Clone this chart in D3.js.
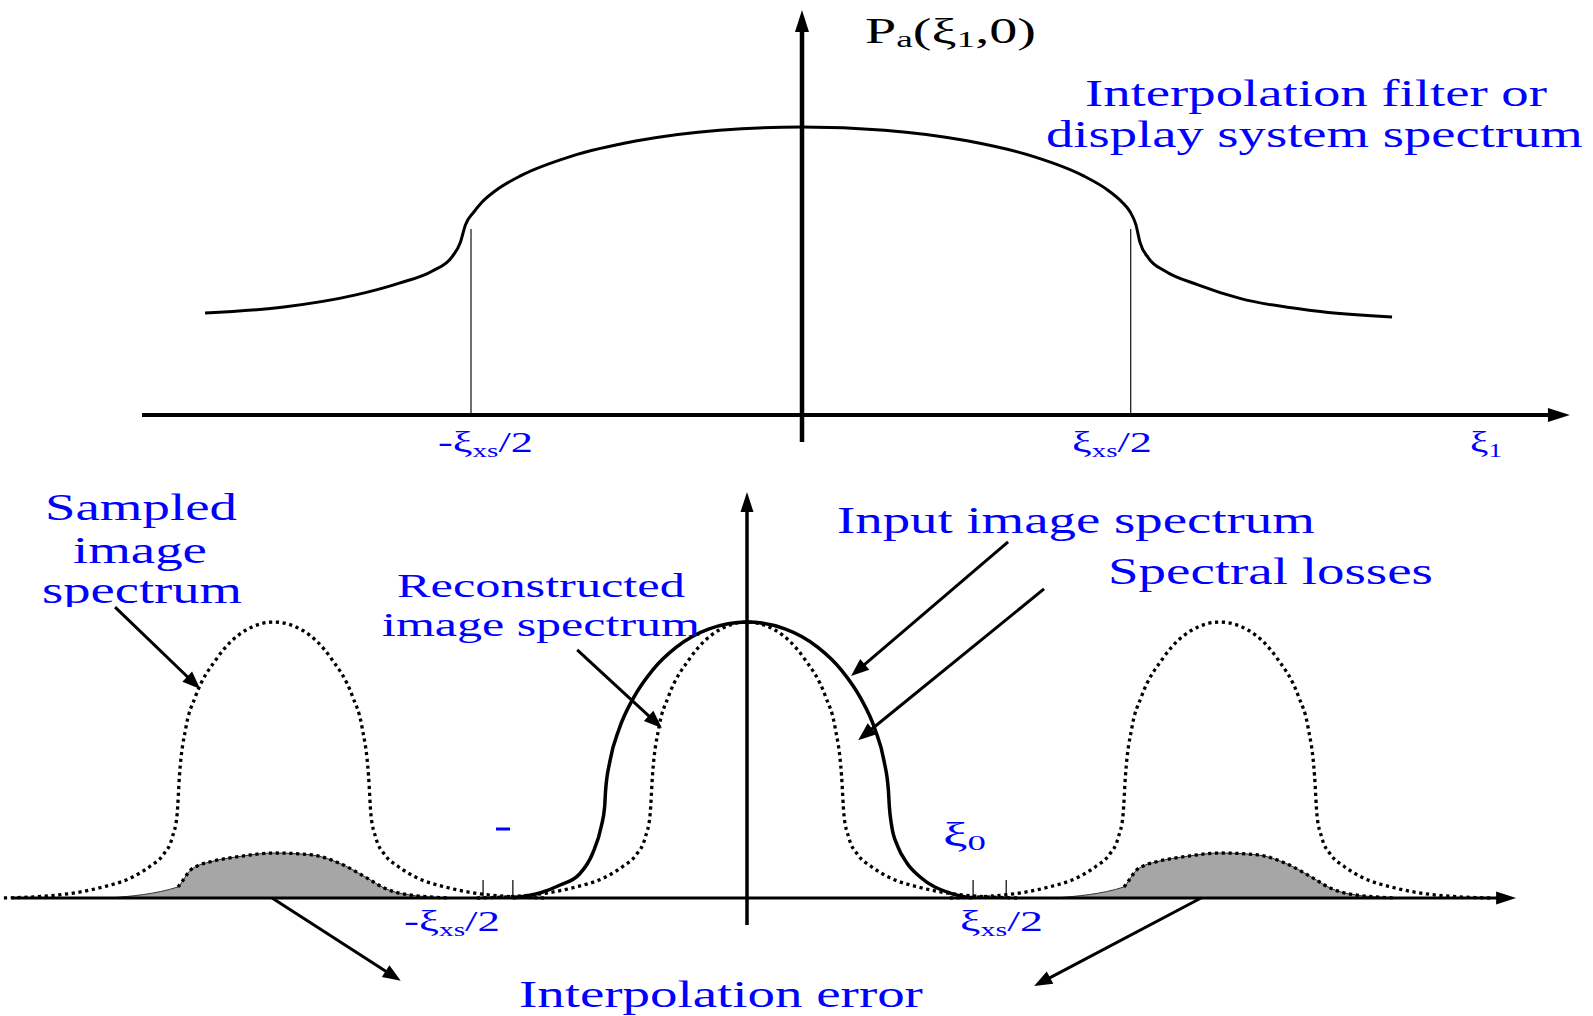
<!DOCTYPE html>
<html>
<head>
<meta charset="utf-8">
<script src="https://cdn.jsdelivr.net/npm/d3@7"></script>
<style>
  html, body { margin: 0; padding: 0; background: #fff; }
  svg { display: block; }
  text { font-family: "Liberation Serif", "Times New Roman", Times, serif; }
</style>
</head>
<body>
<svg id="fig" width="1593" height="1016"></svg>
<script>
// ---------------- data ----------------
// Upper panel: interpolation filter / display spectrum P_a(xi1, 0).
// x in units of xi_xs/2, y relative to the DC gain.
const filterSpectrum = [
  [-1.809, 0.354], [-1.570, 0.375], [-1.352, 0.417], [-1.220, 0.458], [-1.120, 0.500],
  [-1.060, 0.550], [-1.035, 0.600], [-1.020, 0.660], [-0.995, 0.704], [-0.970, 0.739],
  [-0.930, 0.778], [-0.850, 0.832], [-0.700, 0.898], [-0.500, 0.952], [-0.250, 0.989], [0, 1],
  [0.250, 0.989], [0.500, 0.952], [0.700, 0.898], [0.850, 0.832], [0.930, 0.778],
  [0.970, 0.739], [0.995, 0.704], [1.012, 0.660], [1.024, 0.600], [1.050, 0.545],
  [1.100, 0.500], [1.200, 0.452], [1.327, 0.405], [1.550, 0.362], [1.788, 0.340]
];
// positions of the +/- xi_xs/2 markers and their height
const filterEdges = [-1.003, 0.996];
const filterEdgeHeight = 0.646;

// Lower panel: x in units of the sampling frequency xi_xs, y relative to peak.
const inputSpectrum = [
  [-0.495, 0], [-0.438, 0.018], [-0.395, 0.047], [-0.355, 0.085], [-0.326, 0.163],
  [-0.308, 0.260], [-0.301, 0.330], [-0.299, 0.388], [-0.290, 0.494], [-0.270, 0.614],
  [-0.240, 0.725], [-0.200, 0.825], [-0.150, 0.908], [-0.080, 0.975], [0, 1],
  [0.080, 0.975], [0.150, 0.908], [0.200, 0.825], [0.240, 0.725], [0.270, 0.614],
  [0.290, 0.494], [0.299, 0.388], [0.301, 0.330], [0.306, 0.260], [0.318, 0.190],
  [0.338, 0.127], [0.366, 0.076], [0.429, 0.018], [0.476, 0]
];
const reconstructedSpectrum = [
  [-0.571, 0], [-0.450, 0.012], [-0.366, 0.038], [-0.300, 0.075], [-0.262, 0.115],
  [-0.235, 0.155], [-0.215, 0.220], [-0.205, 0.300], [-0.200, 0.440], [-0.186, 0.620],
  [-0.166, 0.730], [-0.120, 0.870], [-0.060, 0.970], [0, 1],
  [0.060, 0.970], [0.120, 0.870], [0.166, 0.730], [0.186, 0.620], [0.200, 0.440],
  [0.205, 0.300], [0.215, 0.220], [0.235, 0.155], [0.262, 0.115], [0.300, 0.075],
  [0.366, 0.038], [0.450, 0.012], [0.571, 0]
];
// spectral replicas of the sampled image sit at multiples of xi_xs
const replicaCenters = [-1, 1];
// interpolation error passed by the filter, around each replica
const interpolationError = [
  [-0.349, 0], [-0.203, 0.040], [-0.192, 0.065], [-0.180, 0.095], [-0.160, 0.118],
  [-0.137, 0.130], [-0.066, 0.152], [0, 0.163], [0.080, 0.156], [0.137, 0.127],
  [0.197, 0.072], [0.233, 0.036], [0.275, 0.014], [0.372, 0]
];
// small tick marks at -xs/2, -xi0, xi0, xs/2 on the lower axis
const lowerTicks = [-0.558, -0.495, 0.478, 0.548];

// text
const yAxisTitle = ["P", "a", "(\u03BE", "1", ",0)"];
const halfRateNeg = ["-\u03BE", "xs", "/2"];
const halfRatePos = ["\u03BE", "xs", "/2"];
const freqAxisTitle = ["\u03BE", "1"];
const cutoffLabel = ["\u03BE", "0"];
const filterNote = ["Interpolation filter or", "display system spectrum"];
const sampledNote = ["Sampled", "image", "spectrum"];
const reconNote = ["Reconstructed", "image spectrum"];
const inputNote = "Input image spectrum";
const lossNote = "Spectral losses";
const errorNote = "Interpolation error";

// ---------------- drawing ----------------
const svg = d3.select("#fig");
const BLUE = "#0000ff";

const xT = d3.scaleLinear().domain([0, 1]).range([802, 1132]);
const yT = d3.scaleLinear().domain([0, 1]).range([415, 127]);
const xB = d3.scaleLinear().domain([0, 1]).range([747, 1220]);
const yB = d3.scaleLinear().domain([0, 1]).range([898, 622]);

function arrow(g, x1, y1, x2, y2, opt = {}) {
  const len = opt.len || 18, hw = opt.hw || 7, w = opt.width || 3;
  const dx = x2 - x1, dy = y2 - y1, L = Math.hypot(dx, dy);
  const ux = dx / L, uy = dy / L;
  const bx = x2 - ux * len, by = y2 - uy * len;
  g.append("line")
    .attr("x1", x1).attr("y1", y1)
    .attr("x2", bx + ux * 2).attr("y2", by + uy * 2)
    .attr("stroke", "#000").attr("stroke-width", w);
  g.append("path")
    .attr("d", `M${x2},${y2}L${bx - uy * hw},${by + ux * hw}L${bx + uy * hw},${by - ux * hw}Z`)
    .attr("fill", "#000");
}

// text stretched horizontally to span x0..x1 on the given baseline
function label(parts, x0, x1, baseline, color, opts = {}) {
  const outer = svg.append("g");
  if (opts.clipBottom !== undefined) {
    const id = "clip" + Math.round(x0) + "_" + Math.round(baseline);
    svg.append("clipPath").attr("id", id).append("rect")
      .attr("x", 0).attr("y", 0).attr("width", 1593).attr("height", opts.clipBottom);
    outer.attr("clip-path", `url(#${id})`);
  }
  const g = outer.append("g");
  const t = g.append("text").attr("fill", color).attr("x", 0).attr("y", 0)
    .attr("font-weight", opts.weight || "normal");
  parts.forEach(p => {
    t.append("tspan").attr("font-size", p.size).attr("dy", p.dy || 0).text(p.t);
  });
  const w = t.node().getComputedTextLength();
  const k = (x1 - x0) / w;
  g.attr("transform", `translate(${x0},${baseline}) scale(${k},1)`);
  return g;
}
const plain = (s, size) => [{ t: s, size }];
const sub = (arr, big, small, dshift) => arr.map((s, i) => ({
  t: s,
  size: i % 2 === 1 ? small : big,
  dy: i === 0 ? 0 : (i % 2 === 1 ? dshift : -dshift)
}));

// ---------- upper panel ----------
const upper = svg.append("g");
const lineT = d3.line().x(d => xT(d[0])).y(d => yT(d[1])).curve(d3.curveMonotoneX);

filterEdges.forEach(u => {
  upper.append("line")
    .attr("x1", xT(u)).attr("x2", xT(u))
    .attr("y1", yT(0)).attr("y2", yT(filterEdgeHeight))
    .attr("stroke", "#222").attr("stroke-width", 1.3);
});

arrow(upper, xT(-2.0), yT(0), xT(2.327), yT(0), { len: 22, hw: 7, width: 4 });
arrow(upper, xT(0), yT(-0.094), xT(0), yT(1.406), { len: 22, hw: 7, width: 4.5 });

upper.append("path").datum(filterSpectrum)
  .attr("d", lineT).attr("fill", "none")
  .attr("stroke", "#000").attr("stroke-width", 3);

// ---------- lower panel ----------
const lower = svg.append("g");
const lineB = d3.line().x(d => xB(d[0])).y(d => yB(d[1])).curve(d3.curveMonotoneX);
const areaB = d3.area().x(d => xB(d[0])).y0(yB(0)).y1(d => yB(d[1])).curve(d3.curveMonotoneX);
const shiftBy = (arr, c) => arr.map(([u, v]) => [u + c, v]);

replicaCenters.forEach(c => {
  lower.append("path").datum(shiftBy(interpolationError, c))
    .attr("d", areaB).attr("fill", "#a6a6a6")
    .attr("stroke", "#333").attr("stroke-width", 1);
});

arrow(lower, xB(-1.554), yB(0), xB(1.626), yB(0), { len: 20, hw: 6.5, width: 3 });
arrow(lower, xB(0), yB(-0.098), xB(0), yB(1.471), { len: 20, hw: 6.5, width: 3.5 });

lowerTicks.forEach(u => {
  lower.append("line")
    .attr("x1", xB(u)).attr("x2", xB(u))
    .attr("y1", yB(0)).attr("y2", yB(0.065))
    .attr("stroke", "#000").attr("stroke-width", 1.2);
});

const DOT = { w: 3.3, dash: "3.2,3.6" };
replicaCenters.forEach(c => {
  lower.append("path").datum(shiftBy(interpolationError, c).slice(1))
    .attr("d", lineB).attr("fill", "none")
    .attr("stroke", "#000").attr("stroke-width", DOT.w).attr("stroke-dasharray", DOT.dash);
  lower.append("path").datum(shiftBy(reconstructedSpectrum, c))
    .attr("d", lineB).attr("fill", "none")
    .attr("stroke", "#000").attr("stroke-width", DOT.w).attr("stroke-dasharray", DOT.dash);
});
lower.append("path").datum(reconstructedSpectrum)
  .attr("d", lineB).attr("fill", "none")
  .attr("stroke", "#000").attr("stroke-width", DOT.w).attr("stroke-dasharray", DOT.dash);
lower.append("path").datum(inputSpectrum)
  .attr("d", lineB).attr("fill", "none")
  .attr("stroke", "#000").attr("stroke-width", 3.5);

// callout arrows (data units of the lower panel)
const callouts = [
  { from: [-1.336, 1.054], to: [-1.156, 0.757] },  // sampled image spectrum
  { from: [-0.359, 0.899], to: [-0.180, 0.616] },  // reconstructed
  { from: [0.552, 1.290], to: [0.220, 0.804] },    // input
  { from: [0.628, 1.120], to: [0.235, 0.572] },    // spectral losses
  { from: [-1.004, 0], to: [-0.732, -0.300] },     // interpolation error, left
  { from: [0.960, 0], to: [0.607, -0.319] }        // interpolation error, right
];
callouts.forEach(a => arrow(lower, xB(a.from[0]), yB(a.from[1]), xB(a.to[0]), yB(a.to[1]),
  { len: 18, hw: 7, width: 3 }));

// ---------- labels ----------
const FS = 38;
label(sub(yAxisTitle, 36, 24, 4), 865, 1036, 43, "#000");
label(sub(halfRateNeg, 29, 19, 5), 438, 533, 452, BLUE);
label(sub(halfRatePos, 29, 19, 5), 1072, 1152, 452, BLUE);
label(sub(freqAxisTitle, 29, 19, 5), 1470, 1502, 452, BLUE);
label(sub(halfRateNeg, 29, 19, 5), 404, 500, 931, BLUE);
label(sub(halfRatePos, 29, 19, 5), 960, 1043, 931, BLUE);
label(sub(cutoffLabel, 33, 22, 4), 943, 986, 846, BLUE);

label(plain(filterNote[0], FS), 1085, 1547, 106, BLUE);
label(plain(filterNote[1], FS), 1046, 1583, 147, BLUE);
label(plain(sampledNote[0], FS), 45, 237, 520, BLUE);
label(plain(sampledNote[1], FS), 73, 207, 563, BLUE);
label(plain(sampledNote[2], FS), 42, 242, 603, BLUE, { clipBottom: 607 });
label(plain(reconNote[0], 34), 397, 685, 597, BLUE);
label(plain(reconNote[1], 34), 382, 700, 636, BLUE);
label(plain(inputNote, FS), 837, 1315, 533, BLUE);
label(plain(lossNote, FS), 1108, 1433, 584, BLUE);
label(plain(errorNote, FS), 519, 923, 1007, BLUE);

// stray overbar mark left of the lower axis
svg.append("line").attr("x1", 496).attr("x2", 510).attr("y1", 829).attr("y2", 829)
  .attr("stroke", BLUE).attr("stroke-width", 3);
</script>
</body>
</html>
